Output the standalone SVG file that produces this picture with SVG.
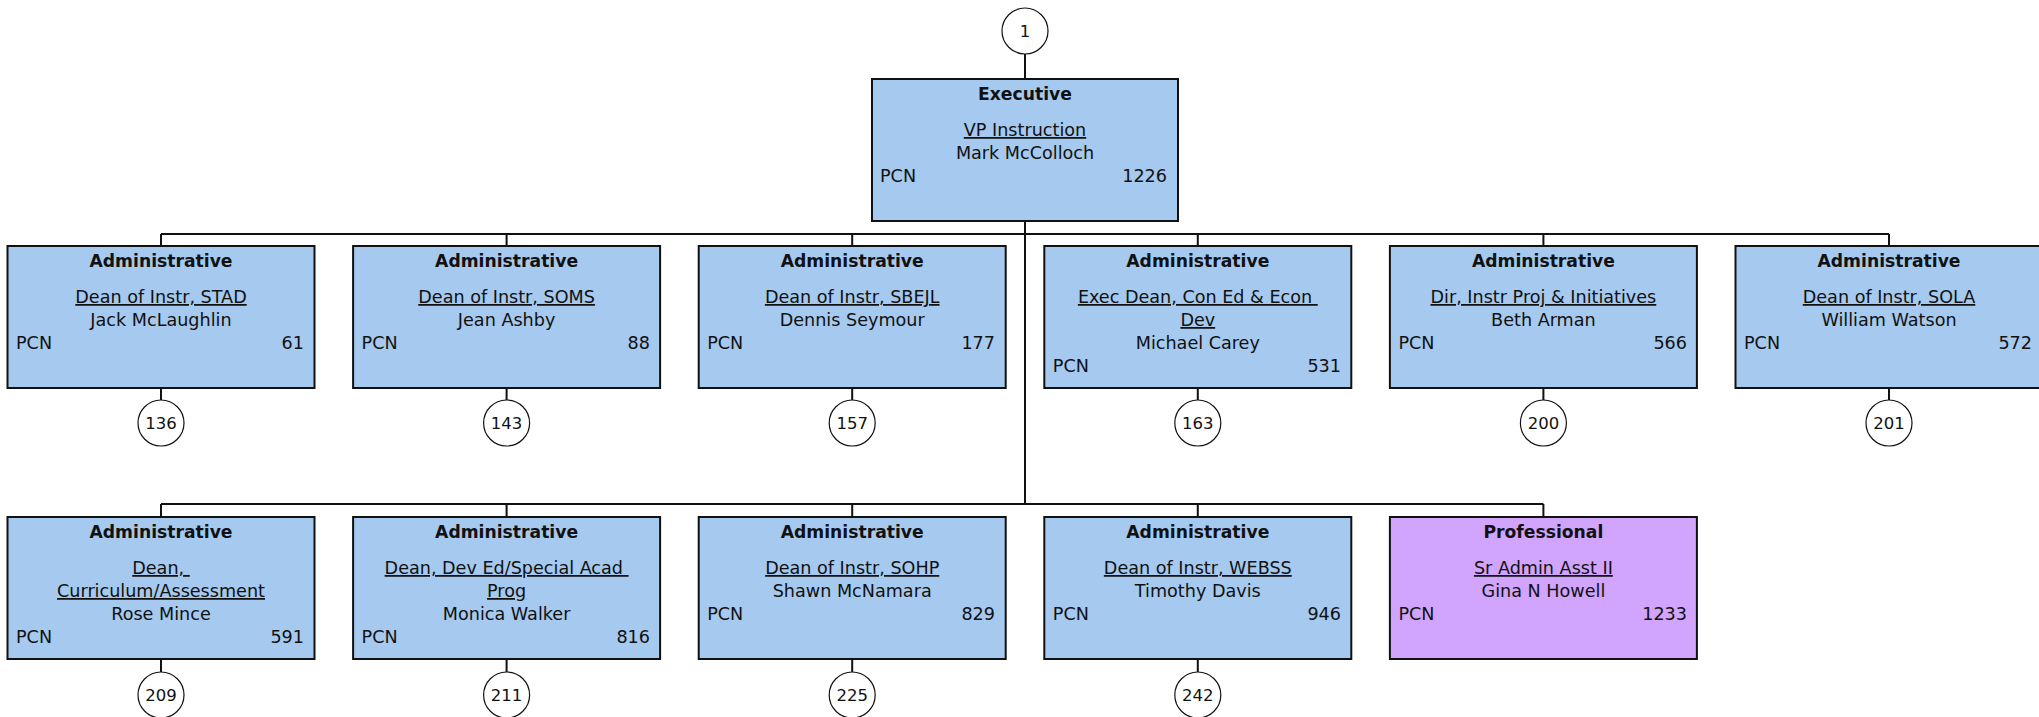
<svg xmlns="http://www.w3.org/2000/svg" width="2039" height="717" viewBox="0 0 2039 717">
<style>
text{font-family:"DejaVu Sans","Verdana",sans-serif;fill:#111;font-size:17.6px}
.b{stroke:#111;stroke-width:2}
.adm{fill:#A6C9EF}
.pro{fill:#D1A4FE}
.h{font-weight:bold;text-anchor:middle;font-size:17.2px}
.t{text-anchor:middle;text-decoration:underline;white-space:pre}
.n{text-anchor:middle}
.r{text-anchor:end}
.c{fill:#fff;stroke:#111;stroke-width:1.2}
.cn{text-anchor:middle;font-size:16.5px}
.ln{stroke:#111;stroke-width:2;fill:none}
</style>
<rect width="2039" height="717" fill="#fff"/>
<g id="connectors">
<path class="ln" d="M1025 54V79M1025 221V504M161 234H1889M161 234V246M506.6 234V246M852.2 234V246M1197.8 234V246M1543.4 234V246M1889 234V246M161 504H1543.4M161 504V517M506.6 504V517M852.2 504V517M1197.8 504V517M1543.4 504V517M161 388V400M506.6 388V400M852.2 388V400M1197.8 388V400M1543.4 388V400M1889 388V400M161 659V672M506.6 659V672M852.2 659V672M1197.8 659V672"/>
</g>
<g id="c1"><circle class="c" cx="1025" cy="31" r="23"/><text class="cn" x="1025" y="37">1</text></g>
<g id="exec">
<rect class="b adm" x="872" y="79" width="306" height="142"/>
<text class="h" x="1025" y="100">Executive</text>
<text class="t" x="1025" y="136">VP Instruction</text>
<text class="n" x="1025" y="159">Mark McColloch</text>
<text x="880" y="182">PCN</text><text class="r" x="1167" y="182">1226</text>
</g>
<g id="n61">
<rect class="b adm" x="7.5" y="246" width="307" height="142"/>
<text class="h" x="161" y="267">Administrative</text>
<text class="t" x="161" y="303">Dean of Instr, STAD</text>
<text class="n" x="161" y="326">Jack McLaughlin</text>
<text x="16" y="349">PCN</text><text class="r" x="304" y="349">61</text>
</g>
<g id="n88">
<rect class="b adm" x="353.1" y="246" width="307" height="142"/>
<text class="h" x="506.6" y="267">Administrative</text>
<text class="t" x="506.6" y="303">Dean of Instr, SOMS</text>
<text class="n" x="506.6" y="326">Jean Ashby</text>
<text x="361.6" y="349">PCN</text><text class="r" x="650" y="349">88</text>
</g>
<g id="n177">
<rect class="b adm" x="698.7" y="246" width="307" height="142"/>
<text class="h" x="852.2" y="267">Administrative</text>
<text class="t" x="852.2" y="303">Dean of Instr, SBEJL</text>
<text class="n" x="852.2" y="326">Dennis Seymour</text>
<text x="707.2" y="349">PCN</text><text class="r" x="995" y="349">177</text>
</g>
<g id="n531">
<rect class="b adm" x="1044.3" y="246" width="307" height="142"/>
<text class="h" x="1197.8" y="267">Administrative</text>
<text class="t" x="1197.8" y="303">Exec Dean, Con Ed &amp; Econ </text>
<text class="t" x="1197.8" y="326">Dev</text>
<text class="n" x="1197.8" y="349">Michael Carey</text>
<text x="1052.8" y="372">PCN</text><text class="r" x="1341" y="372">531</text>
</g>
<g id="n566">
<rect class="b adm" x="1389.9" y="246" width="307" height="142"/>
<text class="h" x="1543.4" y="267">Administrative</text>
<text class="t" x="1543.4" y="303">Dir, Instr Proj &amp; Initiatives</text>
<text class="n" x="1543.4" y="326">Beth Arman</text>
<text x="1398.4" y="349">PCN</text><text class="r" x="1687" y="349">566</text>
</g>
<g id="n572">
<rect class="b adm" x="1735.5" y="246" width="307" height="142"/>
<text class="h" x="1889" y="267">Administrative</text>
<text class="t" x="1889" y="303">Dean of Instr, SOLA</text>
<text class="n" x="1889" y="326">William Watson</text>
<text x="1744" y="349">PCN</text><text class="r" x="2032" y="349">572</text>
</g>
<g id="c136"><circle class="c" cx="161" cy="423" r="23"/><text class="cn" x="161" y="429">136</text></g>
<g id="c143"><circle class="c" cx="506.6" cy="423" r="23"/><text class="cn" x="506.6" y="429">143</text></g>
<g id="c157"><circle class="c" cx="852.2" cy="423" r="23"/><text class="cn" x="852.2" y="429">157</text></g>
<g id="c163"><circle class="c" cx="1197.8" cy="423" r="23"/><text class="cn" x="1197.8" y="429">163</text></g>
<g id="c200"><circle class="c" cx="1543.4" cy="423" r="23"/><text class="cn" x="1543.4" y="429">200</text></g>
<g id="c201"><circle class="c" cx="1889" cy="423" r="23"/><text class="cn" x="1889" y="429">201</text></g>
<g id="n591">
<rect class="b adm" x="7.5" y="517" width="307" height="142"/>
<text class="h" x="161" y="538">Administrative</text>
<text class="t" x="161" y="574">Dean, </text>
<text class="t" x="161" y="597">Curriculum/Assessment</text>
<text class="n" x="161" y="620">Rose Mince</text>
<text x="16" y="643">PCN</text><text class="r" x="304" y="643">591</text>
</g>
<g id="n816">
<rect class="b adm" x="353.1" y="517" width="307" height="142"/>
<text class="h" x="506.6" y="538">Administrative</text>
<text class="t" x="506.6" y="574">Dean, Dev Ed/Special Acad </text>
<text class="t" x="506.6" y="597">Prog</text>
<text class="n" x="506.6" y="620">Monica Walker</text>
<text x="361.6" y="643">PCN</text><text class="r" x="650" y="643">816</text>
</g>
<g id="n829">
<rect class="b adm" x="698.7" y="517" width="307" height="142"/>
<text class="h" x="852.2" y="538">Administrative</text>
<text class="t" x="852.2" y="574">Dean of Instr, SOHP</text>
<text class="n" x="852.2" y="597">Shawn McNamara</text>
<text x="707.2" y="620">PCN</text><text class="r" x="995" y="620">829</text>
</g>
<g id="n946">
<rect class="b adm" x="1044.3" y="517" width="307" height="142"/>
<text class="h" x="1197.8" y="538">Administrative</text>
<text class="t" x="1197.8" y="574">Dean of Instr, WEBSS</text>
<text class="n" x="1197.8" y="597">Timothy Davis</text>
<text x="1052.8" y="620">PCN</text><text class="r" x="1341" y="620">946</text>
</g>
<g id="n1233">
<rect class="b pro" x="1389.9" y="517" width="307" height="142"/>
<text class="h" x="1543.4" y="538">Professional</text>
<text class="t" x="1543.4" y="574">Sr Admin Asst II</text>
<text class="n" x="1543.4" y="597">Gina N Howell</text>
<text x="1398.4" y="620">PCN</text><text class="r" x="1687" y="620">1233</text>
</g>
<g id="c209"><circle class="c" cx="161" cy="695" r="23"/><text class="cn" x="161" y="701">209</text></g>
<g id="c211"><circle class="c" cx="506.6" cy="695" r="23"/><text class="cn" x="506.6" y="701">211</text></g>
<g id="c225"><circle class="c" cx="852.2" cy="695" r="23"/><text class="cn" x="852.2" y="701">225</text></g>
<g id="c242"><circle class="c" cx="1197.8" cy="695" r="23"/><text class="cn" x="1197.8" y="701">242</text></g>
</svg>
